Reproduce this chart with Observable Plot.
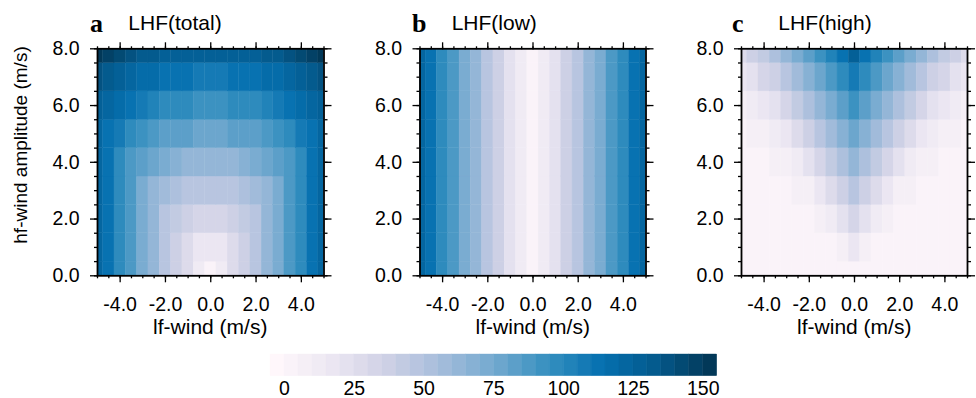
<!DOCTYPE html>
<html><head><meta charset="utf-8">
<script src="https://cdn.jsdelivr.net/npm/d3@7"></script>
<script src="https://cdn.jsdelivr.net/npm/@observablehq/plot@0.6"></script>
<style>
html,body{margin:0;padding:0;background:#fff;}
#chart{position:relative;width:976px;height:398px;overflow:hidden;font-family:"Liberation Sans",Arial,sans-serif;}
#chart svg{position:absolute;overflow:visible;}
</style></head><body><div id="chart"></div>
<script>
// ---- data ----
const lfWind = [-5,-4.5,-4,-3.5,-3,-2.5,-2,-1.5,-1,-0.5,0,0.5,1,1.5,2,2.5,3,3.5,4,4.5,5];
const hfAmp = [0,1,2,3,4,5,6,7,8];
const xTicks = [-4,-2,0,2,4];
const xMinorTicks = [-5,-4.5,-4,-3.5,-3,-2.5,-2,-1.5,-1,-0.5,0,0.5,1,1.5,2,2.5,3,3.5,4,4.5,5];
const yTicks = [0,2,4,6,8];
const yMinorTicks = [0,0.5,1,1.5,2,2.5,3,3.5,4,4.5,5,5.5,6,6.5,7,7.5,8];
// rows: hf-wind amplitude 0..8 ; columns: lf-wind -5..5
const lhfTotal = [
  [123,110,98,86,74,61,49,37,25,12,0,12,25,37,49,61,74,86,98,110,123],
  [123,110,98,86,74,61,49,37,25,18,16,18,25,37,49,61,74,86,98,110,123],
  [123,110,98,86,74,61,49,40,35,32,31,32,35,40,49,61,74,86,98,110,123],
  [123,110,98,86,74,64,58,53,49,47,47,47,49,53,58,64,74,86,98,110,123],
  [123,110,98,88,81,75,70,67,64,63,62,63,64,67,70,75,81,88,98,110,123],
  [123,113,105,98,93,88,84,82,80,78,78,78,80,82,84,88,93,98,105,113,123],
  [129,121,115,110,106,102,99,97,95,94,94,94,95,97,99,102,106,110,115,121,129],
  [138,133,128,123,119,116,114,112,110,109,109,109,110,112,114,116,119,123,128,133,138],
  [150,145,141,137,134,131,129,127,126,125,125,125,126,127,129,131,134,137,141,145,150]
];
const lhfLow = [
  [121,110,98,86,73,61,49,37,24,12,0,12,24,37,49,61,73,86,98,110,123],
  [121,110,98,86,73,61,49,37,24,12,0,12,24,37,49,61,73,86,98,110,123],
  [121,110,98,86,73,61,49,37,24,12,0,12,24,37,49,61,73,86,98,110,123],
  [121,110,98,86,73,61,49,37,24,12,0,12,24,37,49,61,73,86,98,110,123],
  [121,110,98,86,73,61,49,37,24,12,0,12,24,37,49,61,73,86,98,110,123],
  [121,110,98,86,73,61,49,37,24,12,0,12,24,37,49,61,73,86,98,110,123],
  [121,110,98,86,73,61,49,37,24,12,0,12,24,37,49,61,73,86,98,110,123],
  [121,110,98,86,73,61,49,37,24,12,0,12,24,37,49,61,73,86,98,110,123],
  [121,110,98,86,73,61,49,37,24,12,0,12,24,37,49,61,73,86,98,110,123]
];
const lhfHigh = [
  [0,0,0,0,0,0,0,0,0,0,0,0,0,0,0,0,0,0,0,0,0],
  [0,0,0,0,0,0,0,0,0,5,16,5,0,0,0,0,0,0,0,0,0],
  [0,0,0,0,0,0,0,5,11,20,31,20,11,5,0,0,0,0,0,0,0],
  [0,0,0,0,0,5,9,16,25,35,47,35,25,16,9,5,0,0,0,0,0],
  [0,0,0,5,7,14,21,30,40,51,62,51,40,30,21,14,7,5,0,0,0],
  [0,5,7,12,19,27,35,45,55,66,78,66,55,45,35,27,19,12,7,5,0],
  [6,11,17,24,32,41,50,60,70,82,94,82,70,60,50,41,32,24,17,11,6],
  [16,22,30,37,46,55,65,75,86,97,109,97,86,75,65,55,46,37,30,22,16],
  [28,35,43,51,60,70,80,90,101,113,125,113,101,90,80,70,60,51,43,35,28]
];
const panelLetters = ["a","b","c"];
const panelTitles = ["LHF(total)","LHF(low)","LHF(high)"];
const xLabel = "lf-wind (m/s)";
const yLabel = "hf-wind amplitude (m/s)";
const cbarTicks = [0,25,50,75,100,125,150];
const cbarMin = -5, cbarMax = 155, cbarStep = 5;

// ---- scales ----
const nBins = Math.round((cbarMax - cbarMin) / cbarStep);
const pubu = d3.piecewise(d3.interpolateRgb, d3.schemePuBu[9]);
const colorScale = {
  type: "threshold",
  domain: d3.range(cbarMin + cbarStep, cbarMax, cbarStep),
  range: d3.quantize(pubu, nBins)
};
const FONT = "'Liberation Sans', Arial, Helvetica, sans-serif";
const chart = document.getElementById("chart");
const dx = (lfWind[1] - lfWind[0]) / 2;
const dy = (hfAmp[1] - hfAmp[0]) / 2;

const layout = [
  {left: 0,   width: 332, marginLeft: 97,   marginRight: 8.5},
  {left: 332, width: 322, marginLeft: 87.5, marginRight: 8.5},
  {left: 654, width: 322, marginLeft: 87,   marginRight: 9}
];
const grids = [lhfTotal, lhfLow, lhfHigh];

grids.forEach((grid, k) => {
  const L = layout[k];
  const cells = hfAmp.flatMap((a, j) => lfWind.map((x, i) => ({x, a, v: grid[j][i]})));
  const axisCommon = {label: null, strokeWidth: 1.3};
  const p = Plot.plot({
    width: L.width, height: 320,
    marginLeft: L.marginLeft, marginRight: L.marginRight,
    marginTop: 48.3, marginBottom: 44.7,
    style: {background: "transparent", fontFamily: FONT, fontSize: "19.5px", color: "#000", overflow: "visible"},
    x: {domain: [lfWind[0], lfWind[lfWind.length - 1]]},
    y: {domain: [hfAmp[0], hfAmp[hfAmp.length - 1]]},
    color: colorScale,
    marks: [
      Plot.rect(cells, {
        x1: d => d.x - dx, x2: d => d.x + dx,
        y1: d => d.a - dy, y2: d => d.a + dy,
        fill: "v", stroke: "v", strokeWidth: 0.4, clip: true
      }),
      Plot.axisX(xTicks, {...axisCommon, anchor: "bottom", tickSize: 7, tickPadding: 14, tickFormat: d => d.toFixed(1)}),
      Plot.axisX(xMinorTicks, {...axisCommon, anchor: "bottom", tickSize: 3, fill: "none"}),
      Plot.axisX(xTicks, {...axisCommon, anchor: "top", tickSize: 7, fill: "none"}),
      Plot.axisX(xMinorTicks, {...axisCommon, anchor: "top", tickSize: 3, fill: "none"}),
      Plot.axisY(yTicks, {...axisCommon, anchor: "left", tickSize: 7, tickPadding: 11, tickFormat: d => d.toFixed(1)}),
      Plot.axisY(yMinorTicks, {...axisCommon, anchor: "left", tickSize: 3, fill: "none"}),
      Plot.axisY(yTicks, {...axisCommon, anchor: "right", tickSize: 7, fill: "none"}),
      Plot.axisY(yMinorTicks, {...axisCommon, anchor: "right", tickSize: 3, fill: "none"}),
      Plot.frame({stroke: "#000", strokeWidth: 1.8})
    ]
  });
  p.style.left = L.left + "px";
  p.style.top = "0px";
  chart.append(p);
});

// ---- colorbar ----
const bins = d3.range(cbarMin, cbarMax, cbarStep);
const cb = Plot.plot({
  width: 480, height: 58,
  marginLeft: 20, marginRight: 13.3, marginTop: 14, marginBottom: 22.3,
  style: {background: "transparent", fontFamily: FONT, fontSize: "19.5px", color: "#000", overflow: "visible"},
  x: {domain: [cbarMin, cbarMax]},
  color: colorScale,
  marks: [
    Plot.rect(bins, {x1: d => d, x2: d => d + cbarStep, fill: d => d + cbarStep / 2, stroke: d => d + cbarStep / 2, strokeWidth: 0.4}),
    Plot.axisX(cbarTicks, {anchor: "bottom", tickSize: 0, tickPadding: 5, label: null})
  ]
});
cb.style.left = "250px";
cb.style.top = "340px";
chart.append(cb);

// ---- titles and axis labels ----
const ov = d3.select(chart).append("svg")
  .attr("width", 976).attr("height", 398)
  .style("left", "0px").style("top", "0px").style("pointer-events", "none");
const plotLefts = [97, 419.5, 741];
const plotW = 226.5;
const letterX = [90, 412, 732];
const titleX = [128.3, 451.7, 778.3];
panelLetters.forEach((t, k) => {
  ov.append("text").attr("x", letterX[k]).attr("y", 31.5)
    .attr("font-family", "'Liberation Serif', 'Times New Roman', serif")
    .attr("font-weight", "bold").attr("font-size", 26).text(t);
  ov.append("text").attr("x", titleX[k]).attr("y", 30)
    .attr("font-family", FONT).attr("font-size", 21).text(panelTitles[k]);
  ov.append("text").attr("x", plotLefts[k] + plotW / 2).attr("y", 334)
    .attr("text-anchor", "middle")
    .attr("font-family", FONT).attr("font-size", 21).text(xLabel);
});
ov.append("text").attr("transform", "translate(26.5,145) rotate(-90)")
  .attr("text-anchor", "middle")
  .attr("font-family", FONT).attr("font-size", 19).text(yLabel);
</script>
</body></html>
